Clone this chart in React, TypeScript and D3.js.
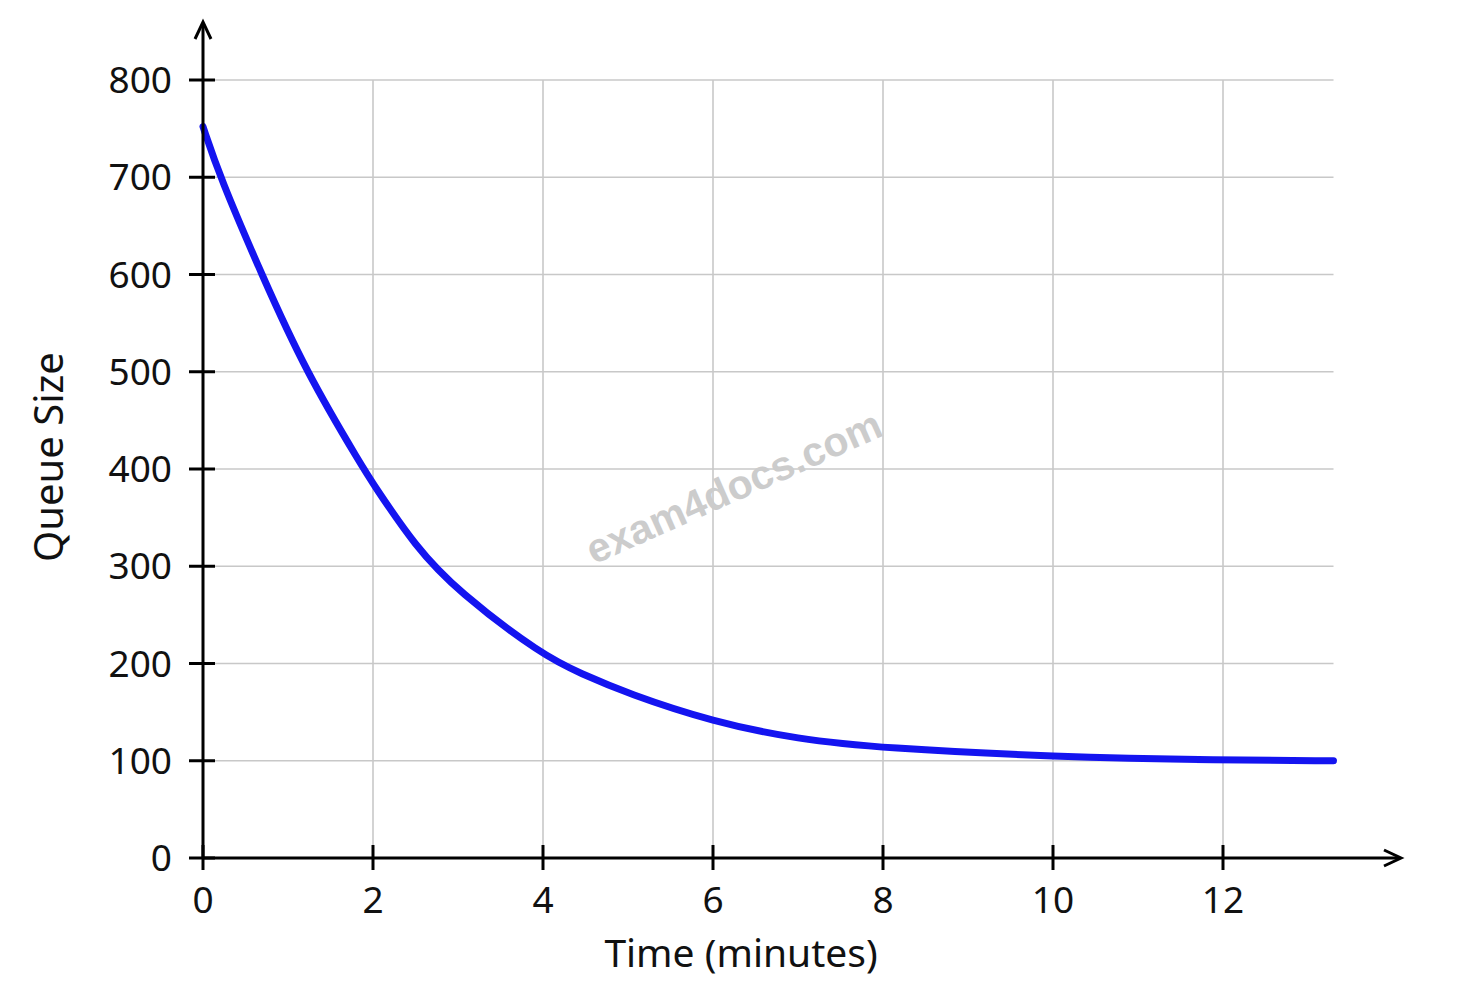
import { useEffect, useRef } from 'react';
import * as d3 from 'd3';

// values
const times = [0, 0.2, 0.69, 1.21, 1.89, 2, 2.5, 3, 4, 4.44, 5, 6, 7, 8, 10, 12, 13.3];
const queue = [752, 700, 600, 500, 400, 385, 320, 274, 208, 190, 169, 140, 122, 113, 104, 100.5, 100];
const xTicks = [0, 2, 4, 6, 8, 10, 12];
const yTicks = [0, 100, 200, 300, 400, 500, 600, 700, 800];

const FONT = '"Noto Sans", "Open Sans", sans-serif';

export default function App() {
  const svgRef = useRef<SVGSVGElement>(null);

  useEffect(() => {
    if (!svgRef.current) return;
    const svg = d3.select(svgRef.current);
    svg.selectAll('*').remove();

    const x = d3.scaleLinear().domain([0, 12]).range([203, 1223]);
    const y = d3.scaleLinear().domain([0, 800]).range([858, 80]);
    const xEnd = x(13.3);

    svg.append('rect').attr('width', 1469).attr('height', 984).attr('fill', '#fff');

    // grid
    const grid = svg.append('g').attr('stroke', '#c8c8c8').attr('stroke-width', 1.6);
    grid
      .selectAll('line.h')
      .data(yTicks.filter((d) => d > 0))
      .join('line')
      .attr('x1', x(0))
      .attr('x2', xEnd)
      .attr('y1', (d) => y(d))
      .attr('y2', (d) => y(d));
    grid
      .selectAll('line.v')
      .data(xTicks.filter((d) => d > 0))
      .join('line')
      .attr('x1', (d) => x(d))
      .attr('x2', (d) => x(d))
      .attr('y1', y(0))
      .attr('y2', y(800));

    // watermark
    svg
      .append('text')
      .attr('transform', 'translate(735,490) rotate(-24)')
      .attr('text-anchor', 'middle')
      .attr('dominant-baseline', 'middle')
      .attr('font-family', 'Arial, "Liberation Sans", sans-serif')
      .attr('font-weight', 'bold')
      .attr('font-size', 41)
      .attr('fill', '#cccccc')
      .text('exam4docs.com');

    // curve
    const line = d3
      .line<number>()
      .x((_, i) => x(times[i]))
      .y((d) => y(d))
      .curve(d3.curveBasis);
    svg
      .append('path')
      .datum(queue)
      .attr('d', line)
      .attr('fill', 'none')
      .attr('stroke', '#1414f0')
      .attr('stroke-width', 7)
      .attr('stroke-linecap', 'round');

    // axes
    const ax = svg.append('g').attr('stroke', '#000').attr('stroke-width', 3).attr('fill', 'none');
    ax.append('line').attr('x1', x(0)).attr('x2', 1400).attr('y1', y(0)).attr('y2', y(0));
    ax.append('line').attr('x1', x(0)).attr('x2', x(0)).attr('y1', y(0)).attr('y2', 24);
    ax.append('path')
      .attr('d', `M1384,${y(0) - 8} L1401,${y(0)} L1384,${y(0) + 8}`)
      .attr('stroke-linejoin', 'miter');
    ax.append('path')
      .attr('d', `M${x(0) - 8},39 L${x(0)},22 L${x(0) + 8},39`)
      .attr('stroke-linejoin', 'miter');

    ax.selectAll('line.xt')
      .data(xTicks)
      .join('line')
      .attr('x1', (d) => x(d))
      .attr('x2', (d) => x(d))
      .attr('y1', y(0) - 13)
      .attr('y2', y(0) + 12);
    ax.selectAll('line.yt')
      .data(yTicks)
      .join('line')
      .attr('x1', x(0) - 14)
      .attr('x2', x(0) + 12)
      .attr('y1', (d) => y(d))
      .attr('y2', (d) => y(d));

    // tick labels
    const lab = svg.append('g').attr('font-family', FONT).attr('fill', '#111');
    lab
      .selectAll('text.x')
      .data(xTicks)
      .join('text')
      .attr('font-size', 37)
      .attr('x', (d) => x(d))
      .attr('y', 913)
      .attr('text-anchor', 'middle')
      .text((d) => d);
    lab
      .selectAll('text.y')
      .data(yTicks)
      .join('text')
      .attr('font-size', 37)
      .attr('x', 172)
      .attr('y', (d) => y(d) + 13)
      .attr('text-anchor', 'end')
      .text((d) => d);

    // axis titles
    lab
      .append('text')
      .attr('font-size', 39)
      .attr('x', 741)
      .attr('y', 967)
      .attr('text-anchor', 'middle')
      .text('Time (minutes)');
    lab
      .append('text')
      .attr('font-size', 40)
      .attr('transform', 'translate(63,457) rotate(-90)')
      .attr('text-anchor', 'middle')
      .text('Queue Size');
  }, []);

  return (
    <svg
      ref={svgRef}
      width={1469}
      height={984}
      style={{ position: 'absolute', left: 0, top: 0, display: 'block' }}
    />
  );
}
